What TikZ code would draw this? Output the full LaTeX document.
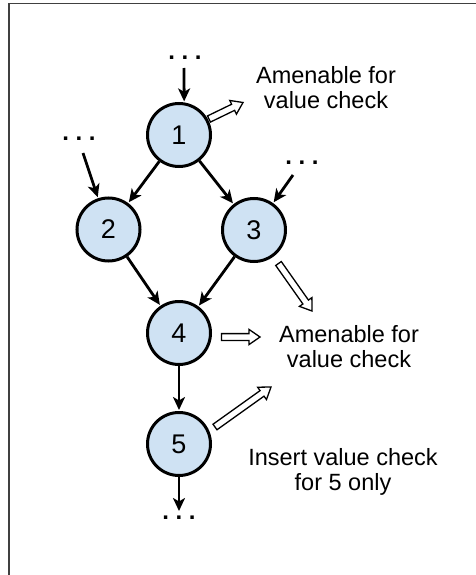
\documentclass[tikz,border=0pt]{standalone}
\usepackage{fontspec}
\setmainfont{Liberation Sans}
\usetikzlibrary{arrows.meta,calc}
\definecolor{nodefill}{HTML}{CFE2F3}
\definecolor{framegray}{gray}{0.25}

% Hollow block arrow from #1 to #2 (both named coordinates)
\newcommand\hollowarrow[2]{%
  \coordinate (#2-base) at ($(#2)!11pt!(#1)$);
  \draw[hollow]
    ($(#1)!3.4pt!90:(#2)$) -- ($(#2-base)!3.4pt!-90:(#1)$)
    -- ($(#2-base)!7.6pt!-90:(#1)$) -- (#2)
    -- ($(#2-base)!7.6pt!90:(#1)$) -- ($(#2-base)!3.4pt!90:(#1)$)
    -- ($(#1)!3.4pt!-90:(#2)$) -- cycle;}

\begin{document}
\begin{tikzpicture}[x=1pt,y=-1pt,
  blk/.style={circle, draw=black, line width=3pt, fill=nodefill,
    minimum size=63pt, inner sep=0pt, font=\fontsize{27}{27}\selectfont},
  flow/.style={line width=2.8pt, shorten >=1pt,
    -{Stealth[length=13pt,width=12pt,inset=3.5pt]}},
  note/.style={align=center, inner sep=0pt,
    font=\fontsize{23.5}{25}\selectfont},
  dots/.style={inner sep=0pt, anchor=base,
    font=\fontsize{24}{24}\selectfont\bfseries},
  hollow/.style={draw=black, fill=white, line width=1.3pt, line join=miter}]

\useasboundingbox (0,0) rectangle (476,575);
\draw[framegray, line width=1.6pt] (9,575) -- (9,3.5) -- (476,3.5);

% blocks
\node[blk] (n1) at (179,135) {1};
\node[blk] (n2) at (108.5,229.5) {2};
\node[blk] (n3) at (254,230) {3};
\node[blk] (n4) at (179,333) {4};
\node[blk] (n5) at (179,444) {5};

% elided neighbours
\node[dots] (d1) at (185,60) {.\ .\ .};
\node[dots] (d2) at (79,140.5) {.\ .\ .};
\node[dots] (d3) at (302,164.5) {.\ .\ .};
\node[dots] (d5) at (179,519.5) {.\ .\ .};

\coordinate (in1) at (184,68);
\coordinate (in2) at (83,153);
\coordinate (in3) at (293,175);
\coordinate (out5) at (179,511);

% control flow
\draw[flow] (in1) -- (n1.81);
\draw[flow] (in2) -- (n2);
\draw[flow] (in3) -- (n3);
\draw[flow] (n1) -- (n2);
\draw[flow] (n1) -- (n3);
\draw[flow] (n2) -- (n4);
\draw[flow] (n3) -- (n4);
\draw[flow] (n4) -- (n5);
\draw[flow, shorten >=0pt] (n5) -- (out5);

% annotations
\node[note] (t1) at (326,87.5) {Amenable for\\value check};
\node[note] (t2) at (349,346.5) {Amenable for\\value check};
\node[note] (t3) at (343,472) {Insert value check\\for 5 only};

\coordinate (h1s) at (209,119);  \coordinate (h1e) at (243,102.5);
\coordinate (h3s) at (278.5,263.5); \coordinate (h3e) at (312,311);
\coordinate (h4s) at (221.5,337); \coordinate (h4e) at (260,337);
\coordinate (h5s) at (215,427);  \coordinate (h5e) at (271,387);
\hollowarrow{h1s}{h1e}
\hollowarrow{h3s}{h3e}
\hollowarrow{h4s}{h4e}
\hollowarrow{h5s}{h5e}
\end{tikzpicture}
\end{document}
